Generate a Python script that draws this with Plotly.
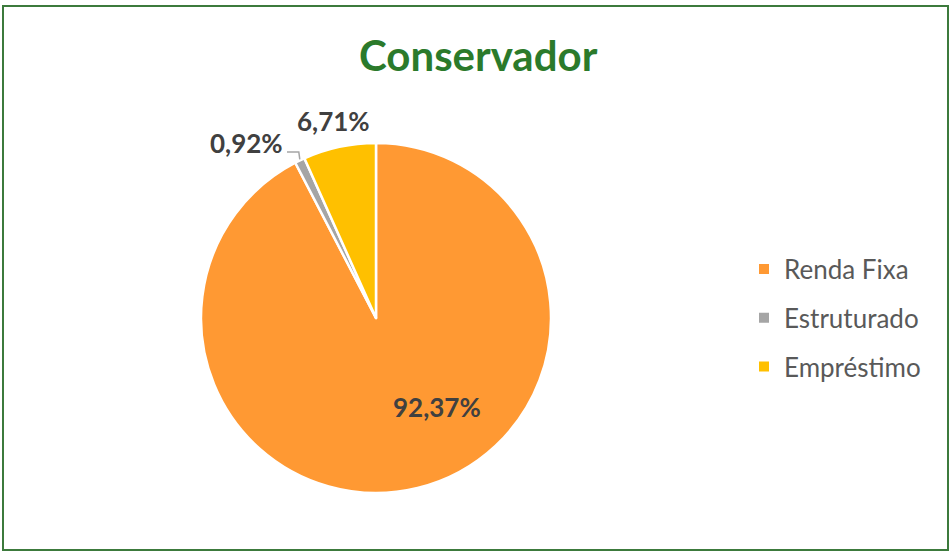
import math
import plotly.graph_objects as go

# ---- data ----
categories = ["Renda Fixa", "Estruturado", "Empréstimo"]
values = [92.37, 0.92, 6.71]
colors = ["#FF9933", "#A5A5A5", "#FFC000"]
title_text = "Conservador"

W, H = 951, 553
# pie geometry (pixels)
cx, cy, R = 376, 318, 175

def px(x):
    return x / W

def py(y):
    return 1 - y / H

fig = go.Figure()
fig.add_trace(go.Pie(
    labels=categories, values=values, sort=False, direction="clockwise", rotation=0,
    marker=dict(colors=colors, line=dict(color="white", width=2.5)),
    textinfo="none", hoverinfo="label+percent", showlegend=False,
    domain=dict(x=[px(cx - R), px(cx + R)], y=[py(cy + R), py(cy - R)]),
))

# legend entries (one group each so spacing can be tuned)
for i, (c, col) in enumerate(zip(categories, colors)):
    fig.add_trace(go.Scatter(
        x=[None], y=[None], mode="markers", name=c, legendgroup=f"g{i}",
        marker=dict(symbol="square", size=10, color=col),
        hoverinfo="skip",
    ))

def fmt(v):
    return f"{v:.2f}".replace(".", ",") + "%"

label_font = dict(family="Lato", size=26, color="#404040")
annotations = []
annotations.append(dict(x=px(437), y=py(407), xref="paper", yref="paper", text="<b>" + fmt(values[0]) + "</b>",
                        showarrow=False, font=label_font, xanchor="center", yanchor="middle"))
annotations.append(dict(x=px(246), y=py(143), xref="paper", yref="paper", text="<b>" + fmt(values[1]) + "</b>",
                        showarrow=False, font=label_font, xanchor="center", yanchor="middle"))
annotations.append(dict(x=px(333), y=py(121), xref="paper", yref="paper", text="<b>" + fmt(values[2]) + "</b>",
                        showarrow=False, font=label_font, xanchor="center", yanchor="middle"))
annotations.append(dict(x=px(478), y=py(55), xref="paper", yref="paper", text="<b>" + title_text + "</b>",
                        showarrow=False, font=dict(family="Lato", size=42, color="#2B7A2B"),
                        xanchor="center", yanchor="middle"))

# leader line for the small slice, computed from its mid angle
total = sum(values)
start = values[0] / total * 360
mid = start + values[1] / total * 360 / 2
ex = cx + R * math.sin(math.radians(mid))
ey = cy - R * math.cos(math.radians(mid))
shapes = [
    dict(type="path", xref="paper", yref="paper",
         path=f"M {px(287)} {py(152)} L {px(ex - 1)} {py(152)} L {px(ex)} {py(ey - 1)}",
         line=dict(color="#A5A5A5", width=1.5)),
    dict(type="rect", xref="paper", yref="paper", x0=px(3), x1=px(948), y0=py(550), y1=py(6),
         line=dict(color="#3C7A3C", width=2), fillcolor="rgba(0,0,0,0)"),
]

fig.update_layout(
    width=W, height=H, margin=dict(l=0, r=0, t=0, b=0),
    paper_bgcolor="white", plot_bgcolor="white",
    xaxis=dict(visible=False), yaxis=dict(visible=False),
    annotations=annotations, shapes=shapes,
    legend=dict(x=px(744), y=py(318), xanchor="left", yanchor="middle",
                font=dict(family="Lato", size=26, color="#595959"),
                tracegroupgap=12, bgcolor="rgba(0,0,0,0)"),
    showlegend=True,
)

fig.write_html("out.html", config={"displayModeBar": False})
with open("out.html", "r", encoding="utf-8") as f:
    html = f.read()
html = html.replace("<body>", '<body style="margin:0;padding:0;overflow:hidden">', 1)
with open("out.html", "w", encoding="utf-8") as f:
    f.write(html)
